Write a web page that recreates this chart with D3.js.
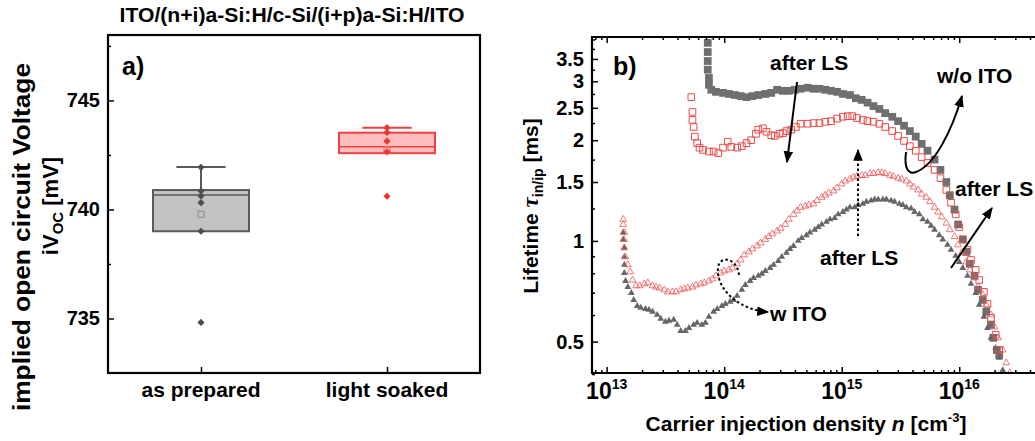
<!DOCTYPE html>
<html><head><meta charset="utf-8">
<script src="https://cdn.jsdelivr.net/npm/d3@7/dist/d3.min.js"></script>
<style>
body{margin:0;background:#fff}
svg{display:block}
text{font-family:"Liberation Sans",Arial,Helvetica,sans-serif;font-weight:bold;fill:#000}
</style></head><body>
<svg id="chart" width="1035" height="441"></svg>
<script>
// ---------------- Panel a data ----------------
const titleA = "ITO/(n+i)a-Si:H/c-Si/(i+p)a-Si:H/ITO";
const categoriesA = ["as prepared", "light soaked"];
const vocPrepared = [741.93, 740.85, 740.62, 740.31, 739.0, 734.82];
const vocSoaked = [743.75, 743.53, 743.13, 742.64, 740.61];
const boxQ1 = [739.0, 742.58];
const boxMedian = [740.66, 742.87];
const boxQ3 = [740.89, 743.52];
const whiskerHigh = [741.95, 743.75];
const boxMean = [739.78, 742.73];
const yTicksA = [735, 740, 745];
const yMinorA = [737.5, 742.5, 747.5];

// ---------------- Panel b data (log10 n [cm^-3], tau [ms]) ----------------
// w/o ITO, as prepared (gray filled squares)
const sqGrayExp = [13.85,13.86,13.86,13.86,13.86,13.87,13.87,13.89,13.93,13.99,14.04,14.09,14.14,14.19,14.24,14.29,14.35,14.40,14.45,14.50,14.55,14.60,14.65,14.71,14.76,14.81,14.86,14.91,14.96,15.01,15.07,15.12,15.17,15.22,15.27,15.32,15.37,15.43,15.48,15.53,15.58,15.63,15.68,15.73,15.79,15.84,15.89,15.92,15.96,15.99,16.03,16.06,16.09,16.13,16.16,16.20,16.23,16.27,16.29,16.32,16.34];
const sqGrayTau = [4.27,3.91,3.67,3.45,3.25,3.07,2.93,2.83,2.79,2.77,2.75,2.73,2.71,2.69,2.71,2.73,2.75,2.77,2.83,2.81,2.81,2.83,2.85,2.87,2.85,2.85,2.83,2.81,2.79,2.75,2.73,2.67,2.64,2.59,2.53,2.48,2.41,2.35,2.28,2.21,2.13,2.05,1.95,1.86,1.75,1.63,1.50,1.37,1.24,1.12,1.01,0.927,0.854,0.786,0.714,0.666,0.614,0.561,0.513,0.472,0.456];
// w/o ITO, after LS (red open squares)
const sqRedExp = [13.72,13.73,13.73,13.74,13.75,13.77,13.79,13.82,13.87,13.91,13.95,13.99,14.03,14.06,14.11,14.15,14.19,14.23,14.27,14.29,14.33,14.36,14.40,14.43,14.47,14.50,14.53,14.57,14.61,14.65,14.71,14.76,14.81,14.86,14.91,14.96,15.01,15.05,15.09,15.13,15.18,15.22,15.27,15.32,15.37,15.43,15.48,15.53,15.58,15.63,15.68,15.73,15.79,15.84,15.89,15.93,15.97,16.00,16.03,16.07,16.10,16.14,16.17,16.21,16.24,16.27,16.31,16.34];
const sqRedTau = [2.69,2.43,2.30,2.19,2.05,1.96,1.90,1.87,1.85,1.85,1.83,1.90,1.98,1.91,1.90,1.92,1.96,2.00,2.09,2.15,2.17,2.12,2.07,2.06,2.09,2.10,2.13,2.15,2.19,2.24,2.24,2.25,2.25,2.27,2.28,2.32,2.35,2.36,2.36,2.33,2.30,2.28,2.27,2.24,2.19,2.13,2.06,1.99,1.92,1.86,1.78,1.71,1.63,1.54,1.42,1.30,1.20,1.10,1.01,0.940,0.877,0.819,0.764,0.704,0.648,0.589,0.524,0.472];
// w ITO, as prepared (gray filled triangles)
const triGrayExp = [13.14,13.14,13.15,13.15,13.15,13.15,13.16,13.18,13.21,13.23,13.26,
 13.29,13.33,13.36,13.39,13.43,13.46,13.50,13.53,13.57,13.60,13.63,13.67,13.70,13.74,13.77,13.81,13.84,13.87,13.91,13.94,
 13.98,14.01,14.05,14.08,14.11,14.15,14.18,14.22,14.25,14.29,14.32,14.35,14.39,14.42,14.46,14.49,14.53,14.56,14.59,14.63,
 14.66,14.70,14.73,14.77,14.80,14.83,14.87,14.90,14.94,14.97,15.01,15.04,15.07,15.11,15.14,15.18,15.21,15.25,15.28,15.31,
 15.35,15.38,15.42,15.45,15.49,15.52,15.55,15.59,15.62,15.66,15.69,15.73,15.76,15.79,15.83,15.86,15.90,15.93,15.97,16.00,
 16.03,16.07,16.10,16.14,16.17,16.21,16.24,16.27,16.31,16.34,16.37];
const triGrayTau = [1.06,1.01,0.953,0.896,0.848,0.802,0.759,0.728,0.699,0.666,0.639,
 0.631,0.626,0.622,0.614,0.601,0.585,0.573,0.577,0.581,0.561,0.538,0.538,0.549,0.561,0.569,0.561,0.569,0.593,0.614,0.626,
 0.639,0.648,0.658,0.666,0.685,0.714,0.738,0.759,0.775,0.786,0.797,0.813,0.830,0.848,0.871,0.896,0.921,0.946,0.966,1.00,
 1.02,1.04,1.06,1.08,1.10,1.12,1.14,1.16,1.17,1.20,1.22,1.24,1.26,1.26,1.28,1.29,1.31,1.32,1.33,1.33,
 1.33,1.33,1.32,1.31,1.29,1.28,1.26,1.25,1.22,1.20,1.16,1.14,1.11,1.08,1.04,1.01,0.973,0.940,0.902,0.865,
 0.830,0.786,0.744,0.699,0.644,0.593,0.549,0.513,0.479,0.447,0.411];
// w ITO, after LS (red open triangles)
const triRedExp = [13.14,13.14,13.15,13.15,13.15,13.16,13.18,13.20,13.22,13.25,
 13.28,13.32,13.35,13.39,13.42,13.45,13.49,13.52,13.56,13.59,13.63,13.66,13.69,13.73,13.76,13.80,13.83,13.87,13.90,13.93,
 13.97,14.00,14.04,14.07,14.11,14.14,14.17,14.21,14.24,14.28,14.31,14.35,14.38,14.41,14.45,14.48,14.52,14.55,14.59,14.62,
 14.65,14.69,14.72,14.76,14.79,14.83,14.86,14.89,14.93,14.96,15.00,15.03,15.07,15.10,15.13,15.17,15.20,15.24,15.27,15.31,
 15.34,15.37,15.41,15.44,15.48,15.51,15.55,15.58,15.61,15.65,15.68,15.72,15.75,15.79,15.82,15.85,15.89,15.92,15.96,15.99,
 16.02,16.06,16.09,16.13,16.16,16.20,16.23,16.27,16.30,16.33,16.37,16.40,16.43];
const triRedTau = [1.16,1.12,1.06,1.01,0.953,0.896,0.848,0.808,0.764,0.734,
 0.734,0.744,0.749,0.734,0.728,0.723,0.714,0.704,0.704,0.704,0.714,0.719,0.723,0.728,0.738,0.744,0.749,0.759,0.769,0.786,
 0.802,0.813,0.819,0.830,0.854,0.877,0.908,0.927,0.946,0.966,0.986,1.01,1.03,1.05,1.07,1.09,1.12,1.16,1.20,1.23,
 1.26,1.27,1.28,1.29,1.32,1.35,1.37,1.39,1.41,1.44,1.48,1.51,1.53,1.55,1.56,1.57,1.57,1.59,1.59,1.60,
 1.60,1.59,1.57,1.56,1.54,1.53,1.51,1.48,1.45,1.42,1.38,1.35,1.31,1.26,1.22,1.18,1.13,1.08,1.03,0.973,
 0.921,0.865,0.819,0.775,0.728,0.690,0.644,0.601,0.553,0.513,0.472,0.432,0.403];

const xTicksB = [1e13, 1e14, 1e15, 1e16];
const xTickExpB = ["13", "14", "15", "16"];
const xMinorB = [8e12,9e12,2e13,3e13,4e13,5e13,6e13,7e13,8e13,9e13,2e14,3e14,4e14,5e14,6e14,7e14,8e14,9e14,2e15,3e15,4e15,5e15,6e15,7e15,8e15,9e15,2e16,3e16,4e16];
const yTicksB = [0.5, 1, 1.5, 2, 2.5, 3, 3.5];
const yTickLabelsB = ["0.5", "1", "1.5", "2", "2.5", "3", "3.5"];
const yMinorB = [0.4, 0.6, 0.7, 0.8, 0.9, 1.25, 1.75, 2.25, 2.75, 3.25, 3.75, 4.0];

// ---------------- drawing ----------------
const svg = d3.select("#chart");
const defs = svg.append("defs");
defs.append("marker").attr("id","ah").attr("viewBox","0 0 10 10").attr("refX",9).attr("refY",5)
  .attr("markerWidth",12).attr("markerHeight",12).attr("markerUnits","userSpaceOnUse").attr("orient","auto")
  .append("path").attr("d","M0,1 L10,5 L0,9 Z").attr("fill","#000");

function styleAxis(g){ g.select(".domain").remove(); g.selectAll("line").attr("stroke","#000").attr("stroke-width",1.5); g.selectAll("text").remove(); }

// ===== Panel a =====
const aL=108, aR=480, aT=35, aB=373;
const xA = d3.scalePoint().domain(categoriesA).range([aL,aR]).padding(0.5);
const yA = d3.scaleLinear().domain([732.5,748]).range([aB,aT]);
const stepA = xA.step();
const boxW = stepA*0.516, capW = stepA*0.265;
const boxStroke = ["#5a5a5a","#f04040"], boxFill = ["#c2c2c2","#ffbdbd"], ptCol = ["#4d4d4d","#ee3535"];
const ptsA = [vocPrepared, vocSoaked];
const diamond = d3.symbol().type(d3.symbolSquare).size(26);

svg.append("text").attr("x",292).attr("y",22).attr("text-anchor","middle").attr("font-size",21)
  .attr("textLength",345).attr("lengthAdjust","spacingAndGlyphs").text(titleA);

categoriesA.forEach((c,i)=>{
  const cx = xA(c), g = svg.append("g");
  g.append("line").attr("x1",cx).attr("x2",cx).attr("y1",yA(boxQ3[i])).attr("y2",yA(whiskerHigh[i]))
    .attr("stroke",boxStroke[i]).attr("stroke-width",2);
  g.append("line").attr("x1",cx-capW/2).attr("x2",cx+capW/2).attr("y1",yA(whiskerHigh[i])).attr("y2",yA(whiskerHigh[i]))
    .attr("stroke",boxStroke[i]).attr("stroke-width",2);
  g.append("rect").attr("x",cx-boxW/2).attr("y",yA(boxQ3[i])).attr("width",boxW).attr("height",yA(boxQ1[i])-yA(boxQ3[i]))
    .attr("fill",boxFill[i]).attr("stroke",boxStroke[i]).attr("stroke-width",2);
  g.append("line").attr("x1",cx-boxW/2).attr("x2",cx+boxW/2).attr("y1",yA(boxMedian[i])).attr("y2",yA(boxMedian[i]))
    .attr("stroke",boxStroke[i]).attr("stroke-width",1.5);
  g.append("rect").attr("x",cx-3).attr("y",yA(boxMean[i])-3).attr("width",6).attr("height",6)
    .attr("fill","none").attr("stroke", i===0?"#8a8a8a":"#f06060").attr("stroke-width",1);
  g.selectAll("path.pt").data(ptsA[i]).join("path").attr("class","pt").attr("d",diamond)
    .attr("transform",d=>`translate(${cx},${yA(d)}) rotate(45)`).attr("fill",ptCol[i]);
});

svg.append("rect").attr("x",aL).attr("y",aT).attr("width",aR-aL).attr("height",aB-aT)
  .attr("fill","none").attr("stroke","#000").attr("stroke-width",2.2);
svg.append("g").attr("transform",`translate(${aL},0)`).call(d3.axisLeft(yA).tickValues(yTicksA).tickSizeInner(-6).tickSizeOuter(0)).call(styleAxis);
svg.append("g").attr("transform",`translate(${aL},0)`).call(d3.axisLeft(yA).tickValues(yMinorA).tickSizeInner(-3).tickSizeOuter(0)).call(styleAxis);
svg.append("g").attr("transform",`translate(0,${aB})`).call(d3.axisBottom(xA).tickSizeInner(-6).tickSizeOuter(0)).call(styleAxis);
yTicksA.forEach(v=>svg.append("text").attr("x",aL-8).attr("y",yA(v)+7).attr("text-anchor","end").attr("font-size",20).text(v));
categoriesA.forEach(c=>svg.append("text").attr("x",xA(c)).attr("y",397).attr("text-anchor","middle").attr("font-size",21).text(c));
svg.append("text").attr("x",122).attr("y",75).attr("font-size",25).text("a)");
svg.append("text").attr("transform","translate(30,237) rotate(-90)").attr("text-anchor","middle").attr("font-size",24)
  .attr("textLength",348).attr("lengthAdjust","spacingAndGlyphs").text("implied open circuit Voltage");
const yt2 = svg.append("text").attr("transform","translate(58,206) rotate(-90)").attr("text-anchor","middle").attr("font-size",22);
yt2.append("tspan").text("iV");
yt2.append("tspan").attr("font-size",15).attr("dy",5).text("OC");
yt2.append("tspan").attr("dy",-5).text(" [mV]");

// ===== Panel b =====
const bL=592, bR=1030, bT=37, bB=373, bEdge=1035;
const xB = d3.scaleLog().domain([7.5e12,4e16]).range([bL,bR]);
const yB = d3.scaleLog().domain([0.4,4.07]).range([374,37]);
defs.append("clipPath").attr("id","clipB").append("rect").attr("x",bL+1).attr("y",bT+1).attr("width",bEdge-bL).attr("height",bB-bT-2);
const plot = svg.append("g").attr("clip-path","url(#clipB)");
function series(expArr, tauArr, type, size, fill, stroke, sw){
  const sym = d3.symbol().type(type).size(size);
  plot.append("g").selectAll("path").data(d3.zip(expArr,tauArr)).join("path")
    .attr("d",sym).attr("transform",d=>`translate(${xB(Math.pow(10,d[0]))},${yB(d[1])})`)
    .attr("fill",fill).attr("stroke",stroke).attr("stroke-width",sw);
}
series(sqGrayExp, sqGrayTau, d3.symbolSquare, 60, "#6f6f6f", "none", 0);
series(triGrayExp, triGrayTau, d3.symbolTriangle, 20, "#666666", "none", 0);
series(sqRedExp, sqRedTau, d3.symbolSquare, 44, "none", "#ef4a4a", 1);
series(triRedExp, triRedTau, d3.symbolTriangle, 20, "none", "#f05555", 0.8);

// frame (right side runs off the picture)
svg.append("path").attr("d",`M${bEdge+2},${bT}H${bL}V${bB}H${bEdge+2}`)
  .attr("fill","none").attr("stroke","#000").attr("stroke-width",2.2);
[[d3.axisBottom,`translate(0,${bB})`,xB],[d3.axisTop,`translate(0,${bT})`,xB],[d3.axisLeft,`translate(${bL},0)`,yB]].forEach(([ax,tr,sc])=>{
  const isX = sc===xB;
  svg.append("g").attr("transform",tr).call(ax(sc).tickValues(isX?xTicksB:yTicksB).tickSizeInner(-6).tickSizeOuter(0)).call(styleAxis);
  svg.append("g").attr("transform",tr).call(ax(sc).tickValues(isX?xMinorB:yMinorB).tickSizeInner(-3).tickSizeOuter(0)).call(styleAxis);
});
yTicksB.forEach((v,i)=>svg.append("text").attr("x",bL-8).attr("y",yB(v)+7).attr("text-anchor","end").attr("font-size",20).text(yTickLabelsB[i]));
xTicksB.forEach((v,i)=>{
  const t = svg.append("text").attr("x",xB(v)).attr("y",399).attr("text-anchor","middle").attr("font-size",23);
  t.append("tspan").text("10");
  t.append("tspan").attr("font-size",14).attr("dy",-10).text(xTickExpB[i]);
});
const xt = svg.append("text").attr("x",806).attr("y",431).attr("text-anchor","middle").attr("font-size",21);
xt.append("tspan").text("Carrier injection density ");
xt.append("tspan").attr("font-style","italic").text("n");
xt.append("tspan").text(" [cm");
xt.append("tspan").attr("font-size",13).attr("dy",-9).text("-3");
xt.append("tspan").attr("dy",9).text("]");
const ytb = svg.append("text").attr("transform","translate(538,206) rotate(-90)").attr("text-anchor","middle").attr("font-size",21);
ytb.append("tspan").text("Lifetime ");
ytb.append("tspan").attr("font-family","Liberation Serif, serif").attr("font-style","italic").attr("font-size",23).text("τ");
ytb.append("tspan").attr("font-size",14).attr("dy",5).text("in/ip");
ytb.append("tspan").attr("dy",-5).text(" [ms]");
svg.append("text").attr("x",613).attr("y",75).attr("font-size",25).text("b)");

// annotations
const ann = [["after LS",770,70],["w/o ITO",937,83],["after LS",955,196],["after LS",820,265],["w ITO",770,321]];
ann.forEach(a=>svg.append("text").attr("x",a[1]).attr("y",a[2]).attr("font-size",21).text(a[0]));
const arrows = [
  {d:"M797,82 L787,162", dash:null},
  {d:"M906,152 C904,168 908,175 916,172 C935,165 952,130 962,96", dash:null},
  {d:"M951,268 L992,208", dash:null},
  {d:"M858,236 L858,150", dash:"2.5,2.5"},
  {d:"M739,275 C737,257 719,255 718,268 C716,290 740,310 768,312", dash:"2.5,2.5"}
];
arrows.forEach(a=>svg.append("path").attr("d",a.d).attr("fill","none").attr("stroke","#000").attr("stroke-width",2)
  .attr("stroke-dasharray",a.dash).attr("marker-end","url(#ah)"));
</script></body></html>
